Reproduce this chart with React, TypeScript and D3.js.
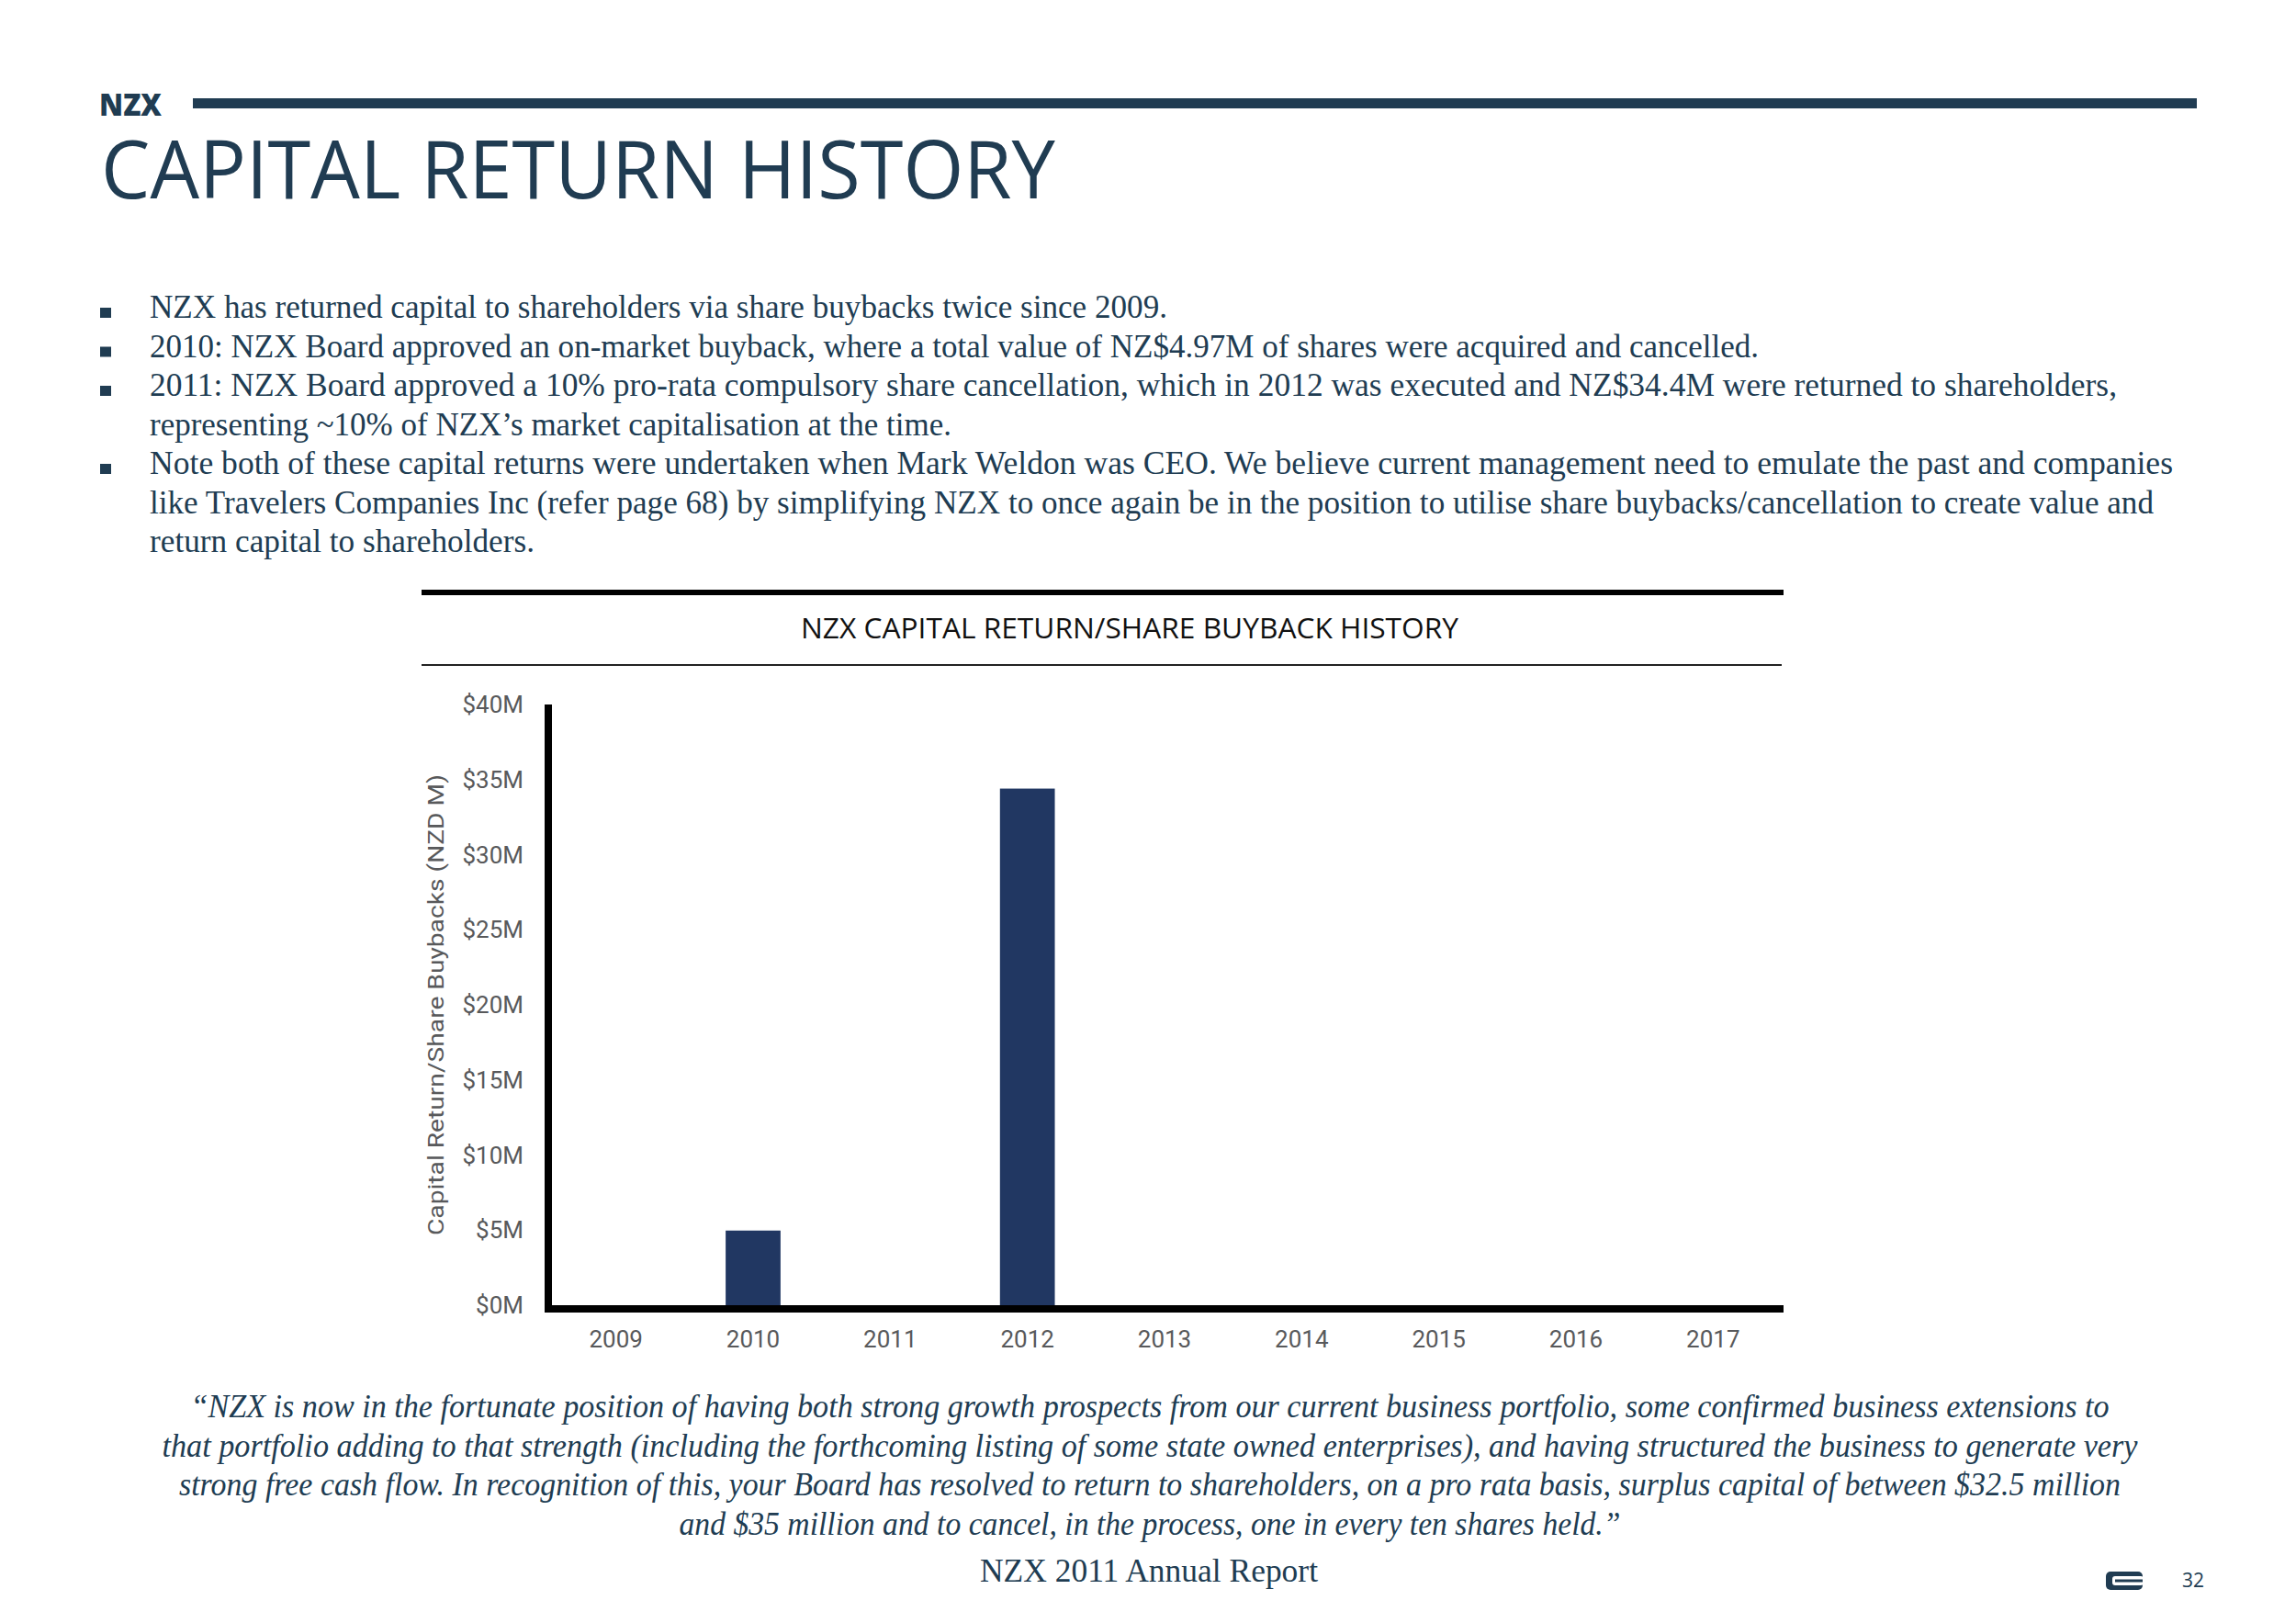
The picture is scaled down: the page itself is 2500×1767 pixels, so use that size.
import * as d3 from 'd3';

// chart data
const years = ['2009', '2010', '2011', '2012', '2013', '2014', '2015', '2016', '2017'];
const capitalReturns = [0, 4.97, 0, 34.4, 0, 0, 0, 0, 0];
const yTicks = [0, 5, 10, 15, 20, 25, 30, 35, 40];

// page text
const bulletLines = [
    { text: 'NZX has returned capital to shareholders via share buybacks twice since 2009.', bullet: true },
    { text: '2010: NZX Board approved an on-market buyback, where a total value of NZ$4.97M of shares were acquired and cancelled.', bullet: true },
    { text: '2011: NZX Board approved a 10% pro-rata compulsory share cancellation, which in 2012 was executed and NZ$34.4M were returned to shareholders,', bullet: true },
    { text: 'representing ~10% of NZX’s market capitalisation at the time.', bullet: false },
    { text: 'Note both of these capital returns were undertaken when Mark Weldon was CEO. We believe current management need to emulate the past and companies', bullet: true },
    { text: 'like Travelers Companies Inc (refer page 68) by simplifying NZX to once again be in the position to utilise share buybacks/cancellation to create value and', bullet: false },
    { text: 'return capital to shareholders.', bullet: false },
];
const quoteLines = [
    '“NZX is now in the fortunate position of having both strong growth prospects from our current business portfolio, some confirmed business extensions to',
    'that portfolio adding to that strength (including the forthcoming listing of some state owned enterprises), and having structured the business to generate very',
    'strong free cash flow. In recognition of this, your Board has resolved to return to shareholders, on a pro rata basis, surplus capital of between $32.5 million',
    'and $35 million and to cancel, in the process, one in every ten shares held.”',
];

// layout (measured from the page)
const W = 2500;
const H = 1767;
const bulletWidths = [1108, 1752, 2142, 873, 2203, 2182, 419];
const quoteWidths = [2089, 2151, 2114, 1025];
const INK = '#203c52';
const GREY = '#58595b';
const BAR = '#213762';

const plot = { left: 596, right: 1940, top: 767, bottom: 1421 };

export default function App() {
    const x = d3
        .scaleBand<string>()
        .domain(years)
        .range([plot.left, plot.right])
        .paddingInner(0.6)
        .paddingOuter(0.3);
    const y = d3.scaleLinear().domain([0, 40]).range([plot.bottom, plot.top]);

    const serif = '"Liberation Serif", "Times New Roman", serif';
    const sans = '"Open Sans", "Noto Sans", sans-serif';
    const din = 'Roboto, "DejaVu Sans", sans-serif';

    return (
        <svg
            width={W}
            height={H}
            style={{ position: 'absolute', left: 0, top: 0, background: '#fff' }}
        >
            <rect x={0} y={0} width={W} height={H} fill="#fff" />

            {/* header */}
            <text
                x={108}
                y={126}
                fill={INK}
                fontFamily={sans}
                fontWeight={800}
                fontSize={33}
                textLength={68}
                lengthAdjust="spacingAndGlyphs"
            >
                NZX
            </text>
            <rect x={210} y={107} width={2182} height={11} fill={INK} />
            <text
                x={110}
                y={216}
                fill={INK}
                fontFamily={sans}
                fontSize={88}
                textLength={1039}
                lengthAdjust="spacingAndGlyphs"
            >
                CAPITAL RETURN HISTORY
            </text>

            {/* bullets */}
            {bulletLines.map((line, i) => {
                const baseline = 346 + i * 42.5;
                return (
                    <g key={i}>
                        {line.bullet && (
                            <rect x={109} y={baseline - 11} width={12} height={11} fill={INK} />
                        )}
                        <text
                            x={163}
                            y={baseline}
                            fill={INK}
                            fontFamily={serif}
                            fontSize={35}
                            textLength={bulletWidths[i]}
                            lengthAdjust="spacingAndGlyphs"
                        >
                            {line.text}
                        </text>
                    </g>
                );
            })}

            {/* chart frame */}
            <rect x={459} y={642} width={1483} height={6} fill="#000" />
            <text
                x={1230}
                y={695}
                textAnchor="middle"
                fill="#111"
                fontFamily={sans}
                fontSize={31}
                textLength={716}
                lengthAdjust="spacingAndGlyphs"
            >
                NZX CAPITAL RETURN/SHARE BUYBACK HISTORY
            </text>
            <rect x={459} y={723} width={1481} height={2} fill="#222" />

            {/* bars */}
            {years.map((yr, i) =>
                capitalReturns[i] > 0 ? (
                    <rect
                        key={yr}
                        x={x(yr)}
                        y={y(capitalReturns[i])}
                        width={x.bandwidth()}
                        height={y(0) - y(capitalReturns[i])}
                        fill={BAR}
                    />
                ) : null
            )}

            {/* axes */}
            <line x1={597} x2={597} y1={plot.top} y2={plot.bottom + 8} stroke="#000" strokeWidth={8} />
            <line x1={593} x2={1942} y1={plot.bottom + 4} y2={plot.bottom + 4} stroke="#000" strokeWidth={8} />

            {yTicks.map((t) => (
                <text
                    key={t}
                    x={570}
                    y={y(t) + 9}
                    textAnchor="end"
                    fill={GREY}
                    fontFamily={din}
                    fontSize={26}
                >
                    {`$${t}M`}
                </text>
            ))}
            {years.map((yr) => (
                <text
                    key={yr}
                    x={(x(yr) ?? 0) + x.bandwidth() / 2}
                    y={1467}
                    textAnchor="middle"
                    fill={GREY}
                    fontFamily={din}
                    fontSize={26}
                >
                    {yr}
                </text>
            ))}
            <text
                transform={`translate(483,1094) rotate(-90)`}
                textAnchor="middle"
                fill={GREY}
                fontFamily={din}
                fontSize={24}
                textLength={502}
                lengthAdjust="spacingAndGlyphs"
            >
                Capital Return/Share Buybacks (NZD M)
            </text>

            {/* quote */}
            {quoteLines.map((q, i) => (
                <text
                    key={i}
                    x={1252}
                    y={1543 + i * 42.5}
                    textAnchor="middle"
                    fill={INK}
                    fontFamily={serif}
                    fontStyle="italic"
                    fontSize={35}
                    textLength={quoteWidths[i]}
                    lengthAdjust="spacingAndGlyphs"
                >
                    {q}
                </text>
            ))}
            <text
                x={1251}
                y={1722}
                textAnchor="middle"
                fill={INK}
                fontFamily={serif}
                fontSize={35}
                textLength={368}
                lengthAdjust="spacingAndGlyphs"
            >
                NZX 2011 Annual Report
            </text>

            {/* footer mark + page number */}
            <rect x={2293} y={1711} width={40} height={20} rx={5} fill={INK} />
            <rect x={2300} y={1716} width={34} height={10} rx={3} fill="#fff" />
            <rect x={2303} y={1719.5} width={30} height={3} fill={INK} />
            <text x={2376} y={1728} fill={INK} fontFamily={sans} fontSize={21}>
                32
            </text>
        </svg>
    );
}
